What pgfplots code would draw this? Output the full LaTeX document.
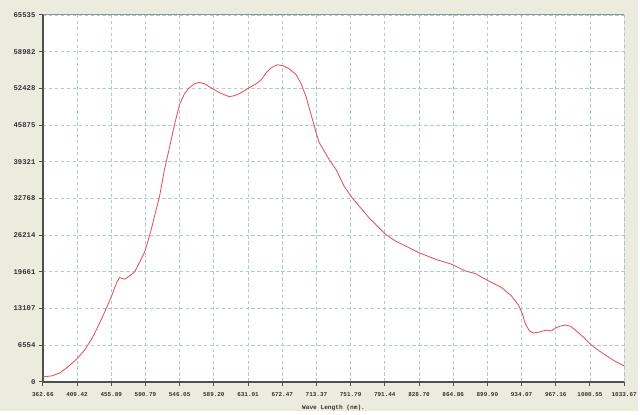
\documentclass[border=0pt]{standalone}
\usepackage{pgfplots}
\pgfplotsset{compat=1.18}
\usepackage{fontspec}
\setmainfont{Liberation Serif}
\setmonofont{Liberation Mono}
\definecolor{bgc}{HTML}{ECECDE}
\definecolor{gridc}{HTML}{B4CAD2}
\definecolor{linec}{HTML}{E05555}
\definecolor{axc}{HTML}{505050}
\definecolor{axl}{HTML}{949494}
\begin{document}
\begin{tikzpicture}[x=1bp,y=1bp]
\fill[bgc] (0,0) rectangle (640,412);
\begin{axis}[
  at={(43bp,29bp)}, anchor=south west,
  width=583bp, height=368bp, scale only axis,
  xmin=0, xmax=17, ymin=0, ymax=65535,
  xtick={0,...,17},
  xticklabels={362.66,409.42,455.89,500.79,546.05,589.20,631.01,672.47,713.37,751.79,791.44,828.70,864.86,899.90,934.07,967.16,1000.55,1033.67},
  ytick={0,6554,13107,19661,26214,32768,39321,45875,52428,58982,65535},
  yticklabels={0,6554,13107,19661,26214,32768,39321,45875,52428,58982,65535},
  scaled ticks=false,
  axis background/.style={fill=white},
  grid=major,
  major grid style={gridc, line width=0.8pt, dash pattern=on 3.5pt off 2.5pt},
  axis x line*=bottom, axis y line*=left,
  axis line style={axc, line width=1.4pt},
  every outer x axis line/.append style={-},
  every outer y axis line/.append style={-},
  tick align=outside,
  major tick length=4bp,
  tick style={axc, line width=1pt},
  xticklabel style={font=\ttfamily\bfseries\fontsize{6}{6}\selectfont, text=black!80, yshift=-3bp},
  yticklabel style={font=\ttfamily\bfseries\fontsize{7.3}{8}\selectfont, text=black!80},
  xlabel={Wave Length (nm).},
  xlabel style={font=\ttfamily\bfseries\fontsize{6.2}{7}\selectfont, text=black!80, yshift=-2bp},
  clip=true,
]
\addplot[linec, line width=0.85pt] coordinates {
(0.000,890) (0.262,1070) (0.496,1600) (0.729,2670) (0.991,4100) (1.225,5700)
(1.429,7660) (1.575,9430) (1.808,12470) (2.012,15370) (2.158,17750) (2.245,18640)
(2.312,18460) (2.391,18340) (2.537,18930) (2.683,19650) (2.829,21370) (2.974,23150)
(3.062,24930) (3.170,27250) (3.266,29600) (3.412,33130) (3.557,37940) (3.703,41850)
(3.849,45950) (3.995,49510) (4.141,51470) (4.286,52540) (4.432,53250) (4.578,53480)
(4.724,53250) (4.870,52720) (5.015,52180) (5.161,51650) (5.307,51280) (5.453,50940)
(5.598,51110) (5.744,51470) (5.890,52000) (6.036,52540) (6.240,53250) (6.386,53960)
(6.532,55210) (6.678,56100) (6.852,56640) (7.027,56460) (7.202,55920) (7.407,54850)
(7.552,53250) (7.640,51830) (7.698,50940) (7.844,47730) (7.990,44530) (8.082,42740)
(8.373,39700) (8.573,37940) (8.810,34960) (9.040,32900) (9.536,29330) (10.02,26360)
(10.31,25170) (10.99,23100) (11.48,21900) (11.95,21020) (12.35,19820) (12.64,19360)
(13.03,18040) (13.41,16870) (13.70,15370) (13.909,13710) (14.026,12110) (14.113,10330)
(14.230,9080) (14.346,8730) (14.521,8900) (14.725,9260) (14.871,9080) (14.988,9620)
(15.134,9970) (15.280,10150) (15.425,9970) (15.571,9260) (15.804,8010) (16.038,6590)
(16.271,5520) (16.534,4450) (16.767,3560) (17.000,2850)
};
\draw[axl, line width=1pt] (rel axis cs:0,1) -- (rel axis cs:1,1) -- (rel axis cs:1,0);
\end{axis}
\end{tikzpicture}
\end{document}
